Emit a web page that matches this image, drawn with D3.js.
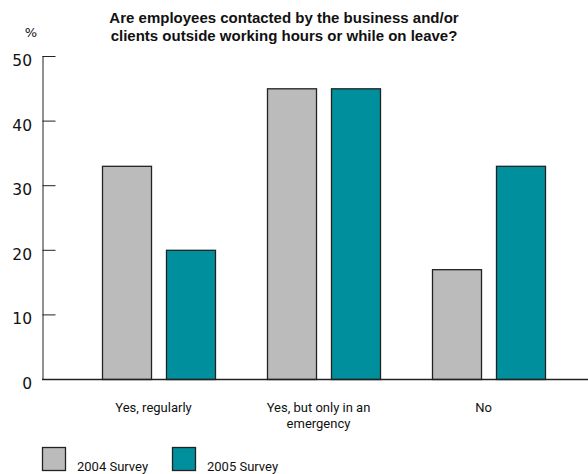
<!DOCTYPE html>
<html>
<head>
<script src="https://cdn.jsdelivr.net/npm/d3@7"></script>
<style>
  body { margin: 0; background: #fff; }
  text { fill: #111; }
</style>
</head>
<body>
<svg id="chart" width="588" height="474"></svg>
<script>
// Data
var categories = ["Yes, regularly", "Yes, but only in an\nemergency", "No"];
var series = ["2004 Survey", "2005 Survey"];
var values2004 = [33, 45, 17];
var values2005 = [20, 45, 33];
var yTicks = [0, 10, 20, 30, 40, 50];
var colors = ["#bbbbbb", "#008f9c"];

var svg = d3.select("svg#chart");

var y = d3.scaleLinear().domain([0, 50]).range([379, 56]);
var x0 = d3.scaleBand().domain(categories).range([76, 571]);
var x1 = d3.scaleBand().domain(series).range([0, 113]).paddingInner(0.234);
var inset = (x0.bandwidth() - 113) / 2;

// y axis
var yAxis = d3.axisRight(y).tickValues(yTicks).tickSize(13).tickFormat("");
var gy = svg.append("g").attr("transform", "translate(42.5,0)").call(yAxis);
gy.select(".domain").attr("d", "M0.5," + y(50) + "V" + y(0)).attr("stroke", "#222");
gy.selectAll(".tick line").attr("stroke", "#222");

svg.append("g").selectAll("text").data(yTicks).enter().append("text")
  .attr("x", 32).attr("y", function(d) { return y(d) + 10; })
  .attr("text-anchor", "end")
  .style("font-family", "DejaVu Sans").style("font-size", "15.5px")
  .text(function(d) { return d; });

svg.append("text").attr("x", 31).attr("y", 37).attr("text-anchor", "middle")
  .style("font-family", "DejaVu Sans").style("font-size", "13px").text("%");

// bars
var rows = categories.map(function(c, i) { return {cat: c, vals: [values2004[i], values2005[i]]}; });
var groups = svg.append("g").selectAll("g").data(rows).enter().append("g")
  .attr("transform", function(d) { return "translate(" + (x0(d.cat) + inset) + ",0)"; });
groups.selectAll("rect").data(function(d) { return d.vals.map(function(v, j) { return {s: series[j], v: v, j: j}; }); })
  .enter().append("rect")
  .attr("x", function(d) { return x1(d.s) + 0.5; })
  .attr("y", function(d) { return y(d.v) + 0.5; })
  .attr("width", x1.bandwidth())
  .attr("height", function(d) { return y(0) - y(d.v); })
  .attr("fill", function(d) { return colors[d.j]; })
  .attr("stroke", "#222").attr("stroke-width", 1.3);

// x axis line
svg.append("line").attr("x1", 42).attr("x2", 588).attr("y1", 379.5).attr("y2", 379.5)
  .attr("stroke", "#222").attr("stroke-width", 1.3);

// category labels
svg.append("g").selectAll("text").data(categories).enter().append("text")
  .attr("x", function(d) { return x0(d) + x0.bandwidth() / 2 - 5; })
  .attr("y", 412)
  .attr("text-anchor", "middle")
  .style("font-family", "Roboto, sans-serif").style("font-size", "13px")
  .each(function(d) {
    var t = d3.select(this);
    d.split("\n").forEach(function(line, k) {
      t.append("tspan").attr("x", t.attr("x")).attr("dy", k ? 16 : 0).text(line);
    });
  });

// title
var title = ["Are employees contacted by the business and/or", "clients outside working hours or while on leave?"];
svg.append("g").selectAll("text").data(title).enter().append("text")
  .attr("x", 284).attr("y", function(d, i) { return 23 + i * 18; })
  .attr("text-anchor", "middle")
  .style("font-family", "'Liberation Sans', Arial, sans-serif").style("font-weight", "bold").style("font-size", "15px")
  .text(function(d) { return d; });

// legend
var legend = svg.append("g").selectAll("g").data(series).enter().append("g")
  .attr("transform", function(d, i) { return "translate(" + (42 + i * 130) + ",447)"; });
legend.append("rect").attr("x", 0.5).attr("y", 0.5).attr("width", 23).attr("height", 23)
  .attr("fill", function(d, i) { return colors[i]; }).attr("stroke", "#222").attr("stroke-width", 1.3);
legend.append("text").attr("x", 35).attr("y", 24)
  .style("font-family", "Roboto, sans-serif").style("font-size", "13px")
  .text(function(d) { return d; });
</script>
</body>
</html>
